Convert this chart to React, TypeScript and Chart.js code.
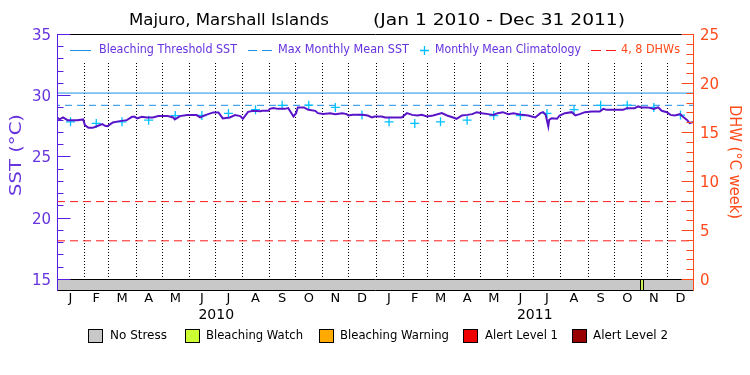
import React, { useEffect, useRef } from 'react';
import { Chart, registerables } from 'chart.js';

Chart.register(...registerables);

// ---- data ----
const monthStarts = [0, 31, 59, 90, 120, 151, 181, 212, 243, 273, 304, 334, 365, 396, 424, 455, 485, 516, 546, 577, 608, 638, 669, 699, 730];
const monthLabels = ['J', 'F', 'M', 'A', 'M', 'J', 'J', 'A', 'S', 'O', 'N', 'D', 'J', 'F', 'M', 'A', 'M', 'J', 'J', 'A', 'S', 'O', 'N', 'D'];
const yearLabels = ['2010', '2011'];
const yearStarts = [0, 365, 730];

const sstDays = [0, 3, 7, 12, 23, 30, 32, 36, 41, 47, 52, 55, 58, 64, 72, 80, 86, 89, 92, 97, 103, 110, 116, 122, 127, 133, 135, 141, 149, 160, 164, 170, 179, 185, 190, 198, 204, 210, 213, 219, 225, 233, 235, 242, 244, 248, 253, 261, 265, 268, 271, 274, 276, 283, 288, 296, 299, 305, 313, 319, 327, 332, 334, 339, 350, 356, 361, 364, 372, 376, 395, 401, 407, 413, 418, 424, 431, 441, 447, 454, 458, 464, 470, 476, 481, 487, 494, 500, 505, 511, 517, 523, 533, 540, 544, 548, 554, 557, 560, 563, 564, 567, 573, 576, 582, 590, 594, 599, 605, 613, 622, 626, 630, 640, 649, 653, 662, 666, 670, 677, 684, 689, 693, 699, 703, 708, 714, 717, 722, 725, 729];
const sstValues = [28.27, 28.11, 28.27, 28.05, 28.05, 28.11, 27.64, 27.42, 27.42, 27.59, 27.72, 27.59, 27.56, 27.86, 27.97, 28.05, 28.32, 28.32, 28.19, 28.32, 28.27, 28.27, 28.38, 28.38, 28.38, 28.27, 28.11, 28.38, 28.46, 28.46, 28.27, 28.46, 28.68, 28.68, 28.19, 28.27, 28.46, 28.38, 28.16, 28.73, 28.81, 28.78, 28.81, 28.81, 28.97, 29.03, 28.97, 28.97, 29.03, 28.70, 28.35, 28.62, 29.09, 29.09, 28.89, 28.81, 28.62, 28.55, 28.62, 28.54, 28.62, 28.54, 28.43, 28.48, 28.48, 28.43, 28.27, 28.35, 28.35, 28.27, 28.27, 28.62, 28.48, 28.43, 28.48, 28.35, 28.43, 28.62, 28.43, 28.27, 28.16, 28.43, 28.48, 28.54, 28.70, 28.62, 28.54, 28.48, 28.62, 28.70, 28.54, 28.62, 28.48, 28.43, 28.35, 28.27, 28.62, 28.70, 28.48, 27.54, 28.07, 28.21, 28.16, 28.43, 28.62, 28.70, 28.43, 28.54, 28.70, 28.76, 28.76, 28.97, 28.89, 28.89, 28.89, 29.03, 29.03, 29.17, 29.09, 29.09, 28.97, 29.09, 28.81, 28.70, 28.48, 28.43, 28.54, 28.35, 28.07, 27.81, 27.89];

const climatology = [27.91, 27.78, 27.91, 28.05, 28.42, 28.43, 28.60, 28.90, 29.26, 29.27, 29.09, 28.46];
const maxMonthlyMean = 29.26;
const bleachingThreshold = 30.26;
const dhwLevels = [4, 8];

const statusDays = [669, 670, 671];
const statusLevels = [1, 1, 1];
const stressLabels = ['No Stress', 'Bleaching Watch', 'Bleaching Warning', 'Alert Level 1', 'Alert Level 2'];
const stressColors = ['#c8c8c8', '#ccff33', '#ffaa00', '#ee0000', '#990000'];

const sstTicks = [15, 20, 25, 30, 35];
const dhwTicks = [0, 5, 10, 15, 20, 25];

// ---- styles ----
const PURPLE_LINE = '#5a14c8';
const PURPLE_TEXT = '#6633dd';
const PURPLE_AXIS = '#5a1ee0';
const BLUE = '#1e8fe6';
const CYAN = '#00c0ff';
const RED = '#ff1a1a';
const ORANGE = '#ff4a1a';
const FONT = "'DejaVu Sans', sans-serif";

function fitText(ctx: CanvasRenderingContext2D, text: string, x: number, y: number, width: number, font: string, color: string) {
  ctx.save();
  ctx.font = font;
  ctx.fillStyle = color;
  ctx.textBaseline = 'middle';
  ctx.textAlign = 'left';
  const w = ctx.measureText(text).width;
  ctx.translate(x, y);
  ctx.scale(width / w, 1);
  ctx.fillText(text, 0, 0);
  ctx.restore();
}

const crisp = (v: number) => Math.round(v) + 0.5;

const decorPlugin = {
  id: 'decor',
  beforeDatasetsDraw(chart: any) {
    const ctx: CanvasRenderingContext2D = chart.ctx;
    const xs = chart.scales.x;
    const ys = chart.scales.y;
    const area = chart.chartArea;
    const y15 = ys.getPixelForValue(15);
    // status bar
    ctx.save();
    ctx.fillStyle = stressColors[0];
    ctx.fillRect(area.left, y15, area.right - area.left, area.bottom - y15);
    for (let i = 0; i < statusDays.length; i++) {
      const x0 = xs.getPixelForValue(statusDays[i]);
      const x1 = xs.getPixelForValue(statusDays[i] + 1);
      ctx.fillStyle = stressColors[statusLevels[i]];
      ctx.fillRect(x0, y15, x1 - x0, area.bottom - y15);
    }
    // black edges around non-zero status runs
    ctx.strokeStyle = '#000';
    ctx.lineWidth = 1;
    for (let i = 0; i < statusDays.length; i++) {
      const prev = i > 0 && statusDays[i - 1] === statusDays[i] - 1;
      const next = i < statusDays.length - 1 && statusDays[i + 1] === statusDays[i] + 1;
      if (!prev) {
        const x0 = crisp(xs.getPixelForValue(statusDays[i]) - 1);
        ctx.beginPath(); ctx.moveTo(x0, y15); ctx.lineTo(x0, area.bottom); ctx.stroke();
      }
      if (!next) {
        const x1 = crisp(xs.getPixelForValue(statusDays[i] + 1));
        ctx.beginPath(); ctx.moveTo(x1, y15); ctx.lineTo(x1, area.bottom); ctx.stroke();
      }
    }
    // dotted month lines
    ctx.setLineDash([1, 2]);
    ctx.strokeStyle = '#000';
    for (let i = 1; i < monthStarts.length - 1; i++) {
      const x = crisp(xs.getPixelForValue(monthStarts[i]));
      ctx.beginPath();
      ctx.moveTo(x, area.top + 28);
      ctx.lineTo(x, y15);
      ctx.stroke();
    }
    ctx.restore();
  },
  afterDraw(chart: any) {
    const ctx: CanvasRenderingContext2D = chart.ctx;
    const xs = chart.scales.x;
    const ys = chart.scales.y;
    const y2 = chart.scales.y2;
    const area = chart.chartArea;
    const y15 = ys.getPixelForValue(15);
    ctx.save();
    // frame
    ctx.lineWidth = 1;
    ctx.strokeStyle = '#000';
    ctx.beginPath();
    ctx.moveTo(area.left, crisp(area.top - 1)); ctx.lineTo(area.right, crisp(area.top - 1));
    ctx.moveTo(area.left, crisp(y15 - 1)); ctx.lineTo(area.right, crisp(y15 - 1));
    ctx.moveTo(area.left, crisp(area.bottom - 1)); ctx.lineTo(area.right, crisp(area.bottom - 1));
    ctx.stroke();
    // left axis
    ctx.strokeStyle = PURPLE_AXIS;
    const lx = crisp(area.left);
    ctx.beginPath(); ctx.moveTo(lx, area.top - 1); ctx.lineTo(lx, area.bottom); ctx.stroke();
    for (let v = 15; v <= 35; v++) {
      const y = crisp(ys.getPixelForValue(v) - 1);
      const len = v % 5 === 0 ? 13 : 6;
      ctx.beginPath(); ctx.moveTo(lx, y); ctx.lineTo(lx + len, y); ctx.stroke();
    }
    ctx.fillStyle = PURPLE_TEXT;
    ctx.font = `15px ${FONT}`;
    ctx.textAlign = 'right';
    ctx.textBaseline = 'middle';
    sstTicks.forEach((v) => ctx.fillText(String(v), area.left - 6, ys.getPixelForValue(v) + 1));
    // right axis
    ctx.strokeStyle = ORANGE;
    const rx = crisp(area.right - 1);
    ctx.beginPath(); ctx.moveTo(rx, area.top - 1); ctx.lineTo(rx, area.bottom); ctx.stroke();
    for (let v = 0; v <= 25; v++) {
      const y = crisp(y2.getPixelForValue(v) - 1);
      const len = v % 5 === 0 ? 12 : 7;
      ctx.beginPath(); ctx.moveTo(rx, y); ctx.lineTo(rx - len, y); ctx.stroke();
    }
    ctx.fillStyle = ORANGE;
    ctx.textAlign = 'left';
    dhwTicks.forEach((v) => ctx.fillText(String(v), area.right + 6, y2.getPixelForValue(v) + 1));
    // axis titles
    ctx.save();
    ctx.translate(17, 155);
    ctx.rotate(-Math.PI / 2);
    fitText(ctx, 'SST (°C)', -41, 0, 82, `15px ${FONT}`, PURPLE_TEXT);
    ctx.restore();
    ctx.save();
    ctx.translate(734, 162);
    ctx.rotate(Math.PI / 2);
    fitText(ctx, 'DHW (°C week)', -57, 0, 114, `15px ${FONT}`, ORANGE);
    ctx.restore();
    // title
    fitText(ctx, 'Majuro, Marshall Islands', 129, 21, 200, `16px ${FONT}`, '#000');
    fitText(ctx, '(Jan 1 2010 - Dec 31 2011)', 373, 21, 252, `16px ${FONT}`, '#000');
    // legend inside plot
    const ly = 50;
    ctx.lineWidth = 1;
    ctx.strokeStyle = BLUE;
    ctx.beginPath(); ctx.moveTo(70, ly + 0.5); ctx.lineTo(91, ly + 0.5); ctx.stroke();
    fitText(ctx, 'Bleaching Threshold SST', 99, ly, 138, `12px ${FONT}`, PURPLE_TEXT);
    ctx.beginPath(); ctx.moveTo(248, ly + 0.5); ctx.lineTo(257, ly + 0.5); ctx.moveTo(262, ly + 0.5); ctx.lineTo(272, ly + 0.5); ctx.stroke();
    fitText(ctx, 'Max Monthly Mean SST', 278, ly, 131, `12px ${FONT}`, PURPLE_TEXT);
    ctx.strokeStyle = CYAN;
    ctx.lineWidth = 1.3;
    ctx.beginPath(); ctx.moveTo(420, ly + 0.5); ctx.lineTo(429, ly + 0.5); ctx.moveTo(424.5, ly - 4); ctx.lineTo(424.5, ly + 5); ctx.stroke();
    fitText(ctx, 'Monthly Mean Climatology', 435, ly, 146, `12px ${FONT}`, PURPLE_TEXT);
    ctx.lineWidth = 1;
    ctx.strokeStyle = RED;
    ctx.beginPath(); ctx.moveTo(591, ly + 0.5); ctx.lineTo(601, ly + 0.5); ctx.moveTo(606, ly + 0.5); ctx.lineTo(616, ly + 0.5); ctx.stroke();
    fitText(ctx, '4, 8 DHWs', 621, ly, 59, `12px ${FONT}`, ORANGE);
    // month labels
    ctx.fillStyle = '#000';
    ctx.font = `13px ${FONT}`;
    ctx.textAlign = 'center';
    ctx.textBaseline = 'middle';
    for (let i = 0; i < monthLabels.length; i++) {
      const mid = (monthStarts[i] + monthStarts[i + 1]) / 2;
      ctx.fillText(monthLabels[i], xs.getPixelForValue(mid), 299);
    }
    ctx.font = `14px ${FONT}`;
    for (let i = 0; i < yearLabels.length; i++) {
      const mid = (yearStarts[i] + yearStarts[i + 1]) / 2;
      ctx.fillText(yearLabels[i], xs.getPixelForValue(mid), 315);
    }
    // stress legend
    const boxX = [88, 185, 319, 463, 572];
    const textX = [110, 206, 340, 485, 593];
    const textW = [57, 97, 109, 73, 75];
    for (let i = 0; i < stressLabels.length; i++) {
      ctx.fillStyle = stressColors[i];
      ctx.fillRect(boxX[i], 329, 14, 13);
      ctx.strokeStyle = '#000';
      ctx.lineWidth = 1;
      ctx.strokeRect(boxX[i] + 0.5, 329.5, 14, 13);
      fitText(ctx, stressLabels[i], textX[i], 336, textW[i], `13px ${FONT}`, '#000');
    }
    ctx.restore();
  },
};

export default function App() {
  const ref = useRef<HTMLCanvasElement | null>(null);
  useEffect(() => {
    document.body.style.margin = '0';
    const canvas = ref.current!;
    const sst = sstDays.map((d, i) => ({ x: d, y: sstValues[i] }));
    const clim = [];
    for (let m = 0; m < 24; m++) {
      clim.push({ x: (monthStarts[m] + monthStarts[m + 1]) / 2, y: climatology[m % 12] });
    }
    const flat = (v: number) => [{ x: 0, y: v }, { x: 730, y: v }];
    const chart = new Chart(canvas, {
      type: 'line',
      data: {
        datasets: [
          { label: 'SST', data: sst, borderColor: PURPLE_LINE, borderWidth: 2, pointRadius: 0, tension: 0, yAxisID: 'y' },
          { label: 'Monthly Mean Climatology', data: clim, showLine: false, pointStyle: 'cross', pointRadius: 4.5, borderColor: CYAN, backgroundColor: CYAN, pointBorderWidth: 1.3, yAxisID: 'y' } as any,
          { label: 'Bleaching Threshold SST', data: flat(bleachingThreshold), borderColor: BLUE, borderWidth: 1, pointRadius: 0, yAxisID: 'y' },
          { label: 'Max Monthly Mean SST', data: flat(maxMonthlyMean), borderColor: BLUE, borderWidth: 1, borderDash: [7, 5], borderDashOffset: 4, pointRadius: 0, yAxisID: 'y' },
          ...dhwLevels.map((d) => ({ label: `${d} DHW`, data: flat(d), borderColor: RED, borderWidth: 1, borderDash: [8, 5], pointRadius: 0, yAxisID: 'y2' })),
        ],
      },
      options: {
        animation: false,
        responsive: false,
        maintainAspectRatio: false,
        devicePixelRatio: 1,
        layout: { padding: { left: 57, right: 56, top: 35, bottom: 84 } },
        plugins: { legend: { display: false }, tooltip: { enabled: false }, title: { display: false } },
        scales: {
          x: { type: 'linear', min: 0, max: 730, display: false },
          y: { type: 'linear', min: 14.102, max: 35, display: false },
          y2: { type: 'linear', min: -1.1225, max: 25, display: false, position: 'right' },
        },
      },
      plugins: [decorPlugin],
    });
    return () => chart.destroy();
  }, []);
  return (
    <div style={{ position: 'absolute', left: 0, top: 0, width: 750, height: 375, background: '#fff' }}>
      <canvas ref={ref} width={750} height={375} style={{ width: 750, height: 375, display: 'block' }} />
    </div>
  );
}
